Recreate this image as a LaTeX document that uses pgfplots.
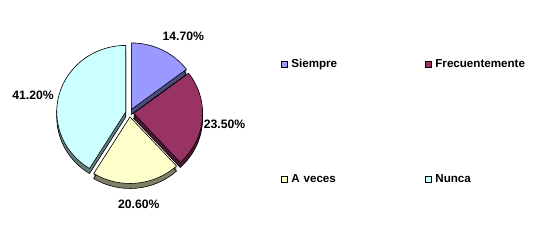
\documentclass[border=0pt]{standalone}
\usepackage{pgfplots}
\pgfplotsset{compat=1.18}
\usepackage{pgfplotstable}
\usepackage{fontspec}
\setmainfont{Liberation Sans}
\definecolor{siempre}{HTML}{9999FF}
\definecolor{siempreD}{HTML}{4D4D80}
\definecolor{frec}{HTML}{993366}
\definecolor{frecD}{HTML}{4D1933}
\definecolor{aveces}{HTML}{FFFFCC}
\definecolor{avecesD}{HTML}{808066}
\definecolor{nunca}{HTML}{CCFFFF}
\definecolor{nuncaD}{HTML}{668080}
\newcommand\lbl{\fontsize{11.6}{13}\selectfont\bfseries}
\newcommand\pct{\fontsize{12.2}{14}\selectfont\bfseries}
\pgfkeys{/pgf/number format/assume math mode=true}

\pgfplotstableread{
value
14.7
23.5
20.6
41.2
}\piedata

% pie geometry (axis units = pt)
\newcommand\cx{129.6}
\newcommand\cy{113}
\newcommand\rx{69}
\newcommand\ry{66.5}
\newcommand\ex{4}

\newcommand\sliceface[4]{%
  \path[#3] ([shift={({(#1+#2)/2}:\ex pt)}, yshift=#4]axis cs:\cx,\cy)
    -- ++(#1:\rx pt and \ry pt)
    arc[start angle=#1, end angle=#2, x radius=\rx pt, y radius=\ry pt] -- cycle;}
\newcommand\sliceside[3]{%
  \sliceface{#1}{#2}{fill=#3}{-1pt}
  \sliceface{#1}{#2}{fill=#3}{-2pt}
  \sliceface{#1}{#2}{fill=#3}{-3pt}
  \sliceface{#1}{#2}{fill=#3}{-4pt}
  \sliceface{#1}{#2}{fill=#3, draw=black, line width=0.6pt}{-5pt}}

\begin{document}
\begin{tikzpicture}
\pgfplotstablegetelem{0}{value}\of\piedata \let\vA\pgfplotsretval
\pgfplotstablegetelem{1}{value}\of\piedata \let\vB\pgfplotsretval
\pgfplotstablegetelem{2}{value}\of\piedata \let\vC\pgfplotsretval
\pgfplotstablegetelem{3}{value}\of\piedata \let\vD\pgfplotsretval
\pgfmathsetmacro\aA{90}
\pgfmathsetmacro\aB{\aA-3.6*\vA}
\pgfmathsetmacro\aC{\aB-3.6*\vB}
\pgfmathsetmacro\aD{\aC-3.6*\vC}
\pgfmathsetmacro\aE{\aD-3.6*\vD}
\begin{axis}[
  hide axis, scale only axis,
  width=554pt, height=242pt,
  xmin=0, xmax=554, ymin=0, ymax=242,
  y dir=reverse, clip=false,
  legend columns=2,
  legend cell align=left,
  legend image code/.code={\draw[#1, line width=0.6pt] (0pt,-3.3pt) rectangle (6.7pt,3.3pt);},
  legend style={
    at={(axis cs:280.7,59.05)}, anchor=north west,
    draw=none, fill=none, inner sep=0pt, outer sep=0pt,
    font=\lbl,
    /tikz/column sep=0pt,
    /tikz/row sep=104.5pt,
    /tikz/every odd column/.append style={column sep=3.4pt},
    /tikz/every even column/.append style={column sep=23.3pt},
    nodes={inner sep=0pt, outer sep=0pt, text height=8.2pt, text depth=2.3pt, text width=110pt, align=left},
  },
]
\path (rel axis cs:0,0) rectangle (rel axis cs:1,1);
% sides (depth)
\sliceside{\aE}{\aD}{nuncaD}
\sliceside{\aA}{\aB}{siempreD}
\sliceside{\aB}{\aC}{frecD}
\sliceside{\aC}{\aD}{avecesD}
% tops
\sliceface{\aA}{\aB}{fill=siempre, draw=black, line width=0.6pt}{0pt}
\sliceface{\aB}{\aC}{fill=frec, draw=black, line width=0.6pt}{0pt}
\sliceface{\aC}{\aD}{fill=aveces, draw=black, line width=0.6pt}{0pt}
\sliceface{\aD}{\aE}{fill=nunca, draw=black, line width=0.6pt}{0pt}
% labels
\node[font=\pct] at (axis cs:183.3,36.7) {\pgfmathprintnumber[fixed,fixed zerofill,precision=2]{\vA}\%};
\node[font=\pct] at (axis cs:224.5,124.5) {\pgfmathprintnumber[fixed,fixed zerofill,precision=2]{\vB}\%};
\node[font=\pct] at (axis cs:138.8,203.8) {\pgfmathprintnumber[fixed,fixed zerofill,precision=2]{\vC}\%};
\node[font=\pct] at (axis cs:33,95.7) {\pgfmathprintnumber[fixed,fixed zerofill,precision=2]{\vD}\%};
\addlegendimage{fill=siempre, draw=black}
\addlegendentry{Siempre}
\addlegendimage{fill=frec, draw=black}
\addlegendentry{Frecuentemente}
\addlegendimage{fill=aveces, draw=black}
\addlegendentry{A veces}
\addlegendimage{fill=nunca, draw=black}
\addlegendentry{Nunca}
\end{axis}
\end{tikzpicture}
\end{document}
